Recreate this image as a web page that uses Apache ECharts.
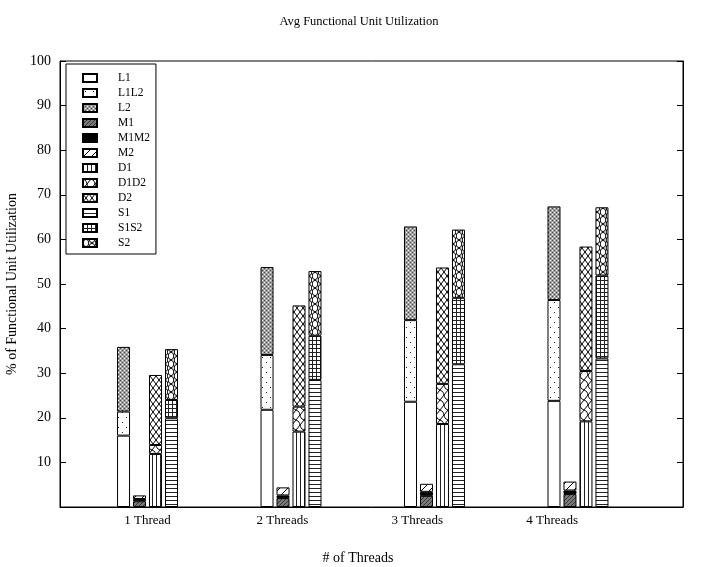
<!DOCTYPE html>
<html><head><meta charset="utf-8">
<script src="https://cdn.jsdelivr.net/npm/echarts@6/dist/echarts.min.js"></script>
<style>html,body{margin:0;padding:0;background:#fff}#c{width:702px;height:567px}</style>
</head><body><div id="c"></div>
<script>
// ---- data ----
const categories = ['1 Thread', '2 Threads', '3 Threads', '4 Threads'];
const groupPos = [1, 2, 3, 4];            // cluster positions of the bars
const labelPos = [1.0, 1.94, 2.88, 3.82]; // tick-label positions on the x axis
const L1   = [16.0, 21.8, 23.6, 23.8];
const L1L2 = [5.4, 12.3, 18.3, 22.6];
const L2   = [14.5, 19.7, 21.0, 21.0];
const M1   = [1.3, 2.0, 2.5, 2.9];
const M1M2 = [0.5, 0.6, 0.9, 0.8];
const M2   = [0.8, 1.8, 1.8, 2.0];
const D1   = [11.9, 16.9, 18.6, 19.2];
const D1D2 = [2.0, 5.6, 9.0, 11.3];
const D2   = [15.7, 22.7, 26.1, 27.9];
const S1   = [19.9, 28.5, 32.0, 33.3];
const S1S2 = [4.1, 9.9, 14.9, 18.6];
const S2   = [11.4, 14.5, 15.3, 15.3];
const seriesNames = ['L1','L1L2','L2','M1','M1M2','M2','D1','D1D2','D2','S1','S1S2','S2'];
const seriesValues = [L1,L1L2,L2,M1,M1M2,M2,D1,D1D2,D2,S1,S1S2,S2];
const stacks = ['L','L','L','M','M','M','D','D','D','S','S','S'];
const yTicks = [0,10,20,30,40,50,60,70,80,90,100];

// ---- pattern tiles ----
function tile(w, h, draw) {
  const c = document.createElement('canvas');
  c.width = w; c.height = h;
  const g = c.getContext('2d');
  g.fillStyle = '#fff'; g.fillRect(0, 0, w, h);
  g.strokeStyle = '#000'; g.fillStyle = '#000'; g.lineWidth = 1;
  draw(g);
  return { image: c, repeat: 'repeat' };
}
const patterns = {
  L1: '#ffffff',
  L1L2: tile(8, 10, g => { g.fillStyle = '#222'; g.fillRect(2, 2, 1, 1); g.fillRect(6, 7, 1, 1); }),
  L2: tile(4, 4, g => {
    g.fillStyle = '#a0a0a0'; g.fillRect(0, 0, 4, 4);
    g.fillStyle = '#444'; g.fillRect(0, 0, 1, 1); g.fillRect(2, 2, 1, 1);
    g.fillStyle = '#f2f2f2'; g.fillRect(2, 0, 1, 1); g.fillRect(0, 2, 1, 1);
  }),
  M1: tile(4, 4, g => {
    g.fillStyle = '#7a7a7a'; g.fillRect(0, 0, 4, 4);
    g.fillStyle = '#333'; g.fillRect(0, 0, 1, 1); g.fillRect(2, 2, 1, 1); g.fillRect(1, 3, 1, 1); g.fillRect(3, 1, 1, 1);
  }),
  M1M2: '#000000',
  M2: tile(8, 8, g => { g.beginPath(); g.moveTo(-1, 9); g.lineTo(9, -1); g.stroke(); }),
  D1: tile(4, 4, g => { g.fillStyle = '#222'; g.fillRect(0, 0, 1, 4); }),
  D1D2: tile(8, 10, g => {
    g.beginPath(); g.moveTo(0, 0); g.bezierCurveTo(6, 2, 2, 8, 8, 10); g.stroke();
    g.beginPath(); g.moveTo(8, 0); g.lineTo(0, 10); g.stroke();
  }),
  D2: tile(6, 8, g => {
    g.beginPath(); g.moveTo(0, 0); g.lineTo(6, 8); g.moveTo(0, 8); g.lineTo(6, 0); g.stroke();
  }),
  S1: tile(4, 4, g => { g.fillStyle = '#222'; g.fillRect(0, 0, 4, 1); }),
  S1S2: tile(4, 4, g => { g.fillStyle = '#222'; g.fillRect(0, 0, 4, 1); g.fillRect(0, 0, 1, 4); }),
  S2: tile(12, 8, g => {
    g.beginPath(); g.ellipse(3, 4, 2.8, 3.6, 0, 0, Math.PI * 2); g.stroke();
    g.beginPath(); g.ellipse(9, 0, 2.8, 3.6, 0, 0, Math.PI * 2); g.stroke();
    g.beginPath(); g.ellipse(9, 8, 2.8, 3.6, 0, 0, Math.PI * 2); g.stroke();
  })
};

const FONT = 'Liberation Serif';
const series = seriesNames.map((n, i) => ({
  name: n,
  type: 'bar',
  stack: stacks[i],
  barWidth: 13,
  barGap: '23%',
  encode: { x: 1, y: 0 },
  itemStyle: { color: patterns[n], borderColor: '#000', borderWidth: 1 },
  emphasis: { disabled: true },
  data: seriesValues[i].map((v, k) => [v, groupPos[k]])
}));

const chart = echarts.init(document.getElementById('c'), null, { renderer: 'canvas' });
chart.setOption({
  animation: false,
  backgroundColor: '#fff',
  title: {
    text: 'Avg Functional Unit Utilization', left: 354, top: 10, textAlign: 'center',
    textStyle: { fontFamily: FONT, fontSize: 12.5, fontWeight: 'normal', color: '#000' }
  },
  grid: { left: 60, right: 19, top: 61, bottom: 60, show: true, borderColor: '#000', borderWidth: 1,
    backgroundColor: 'transparent', containLabel: false, outerBoundsMode: 'none' },
  legend: {
    orient: 'vertical', left: 66, top: 64,
    borderColor: '#000', borderWidth: 1, padding: [8, 6, 5, 16],
    itemWidth: 14, itemHeight: 8, itemGap: 3, icon: 'rect',
    textStyle: { fontFamily: FONT, fontSize: 11.5, color: '#000', lineHeight: 12, padding: [0, 0, 0, 16] },
    data: seriesNames
  },
  xAxis: {
    type: 'value', min: 0.39, max: 4.732,
    splitLine: { show: false },
    axisLine: { show: true, lineStyle: { color: '#000', width: 1 } },
    axisTick: { show: false },
    axisLabel: {
      customValues: labelPos,
      formatter: v => categories[labelPos.indexOf(v)] || '',
      fontFamily: FONT, fontSize: 13, color: '#000', margin: 7
    },
    name: '# of Threads', nameLocation: 'middle', nameGap: 44,
    nameTextStyle: { fontFamily: FONT, fontSize: 14, color: '#000', padding: [0, 27, 0, 0] }
  },
  yAxis: [{
    type: 'value', min: 0, max: 100, interval: 10,
    splitLine: { show: false },
    axisLine: { show: true, lineStyle: { color: '#000' } },
    axisTick: { show: true, inside: true, length: 6, lineStyle: { color: '#000' } },
    axisLabel: { fontFamily: FONT, fontSize: 14, color: '#000', margin: 9, showMinLabel: false,
      formatter: v => (yTicks.indexOf(v) > 0 ? String(v) : '') },
    name: '% of Functional Unit Utilization', nameLocation: 'middle', nameGap: 41,
    nameTextStyle: { fontFamily: FONT, fontSize: 14, color: '#000' }
  }, {
    type: 'value', min: 0, max: 100, interval: 10, position: 'right',
    splitLine: { show: false },
    axisLine: { show: true, lineStyle: { color: '#000' } },
    axisTick: { show: true, inside: true, length: 6, lineStyle: { color: '#000' } },
    axisLabel: { show: false }
  }],
  series: series
});
</script>
</body></html>
